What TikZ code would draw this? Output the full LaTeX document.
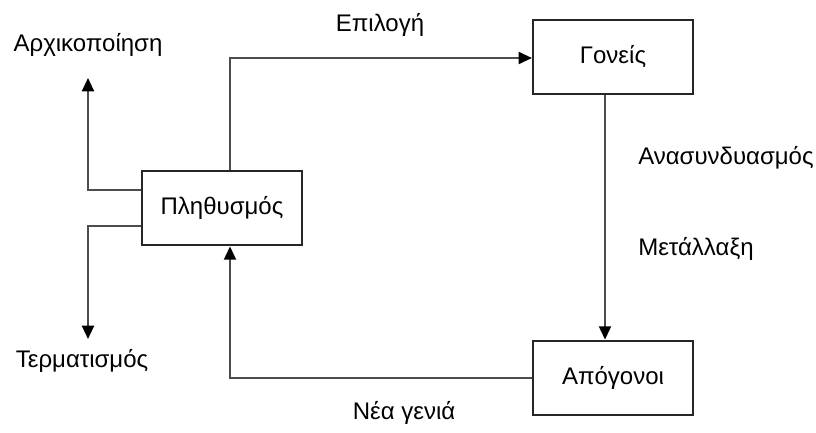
\documentclass[tikz,border=0pt]{standalone}
\usepackage{fontspec}
\setmainfont{Liberation Sans}
\usetikzlibrary{arrows.meta}
\begin{document}
\begin{tikzpicture}[x=0.75pt,y=-0.75pt,
  box/.style={draw=black!85,line width=1.6pt,minimum width=120pt,minimum height=56pt,inner sep=0pt,font=\fontsize{18}{21}\selectfont},
  lbl/.style={font=\fontsize{18}{21}\selectfont,inner sep=0pt},
  conn/.style={draw=black!70,line width=1.5pt},
  arr/.style={conn,-{Triangle[length=10pt,width=9pt,color=black]}}]
\useasboundingbox (0,0) rectangle (816,432);
\node[box] (pop) at (222,208) {Πληθυσμός};
\node[box] (par) at (613,57) {Γονείς};
\node[box] (off) at (613,378) {Απόγονοι};
\coordinate (ini) at (88,78);
\coordinate (ter) at (88,339);
\node[lbl] at (88,45) {Αρχικοποίηση};
\node[lbl] at (82,361) {Τερματισμός};
\node[lbl] at (380,25) {Επιλογή};
\node[lbl,anchor=west] at (638,158) {Ανασυνδυασμός};
\node[lbl,anchor=west] at (638,249) {Μετάλλαξη};
\node[lbl] at (404,413) {Νέα γενιά};
\draw[arr] (pop.north west |- 0,190) -| (ini);
\draw[arr] (pop.north west |- 0,226) -| (ter);
\draw[arr] (pop.north -| 230,0) |- (par.west |- 0,58);
\draw[arr] (par.south -| 605,0) -- (off.north -| 605,0);
\draw[arr] (off.west) -| (pop.south -| 230,0);
\end{tikzpicture}
\end{document}
